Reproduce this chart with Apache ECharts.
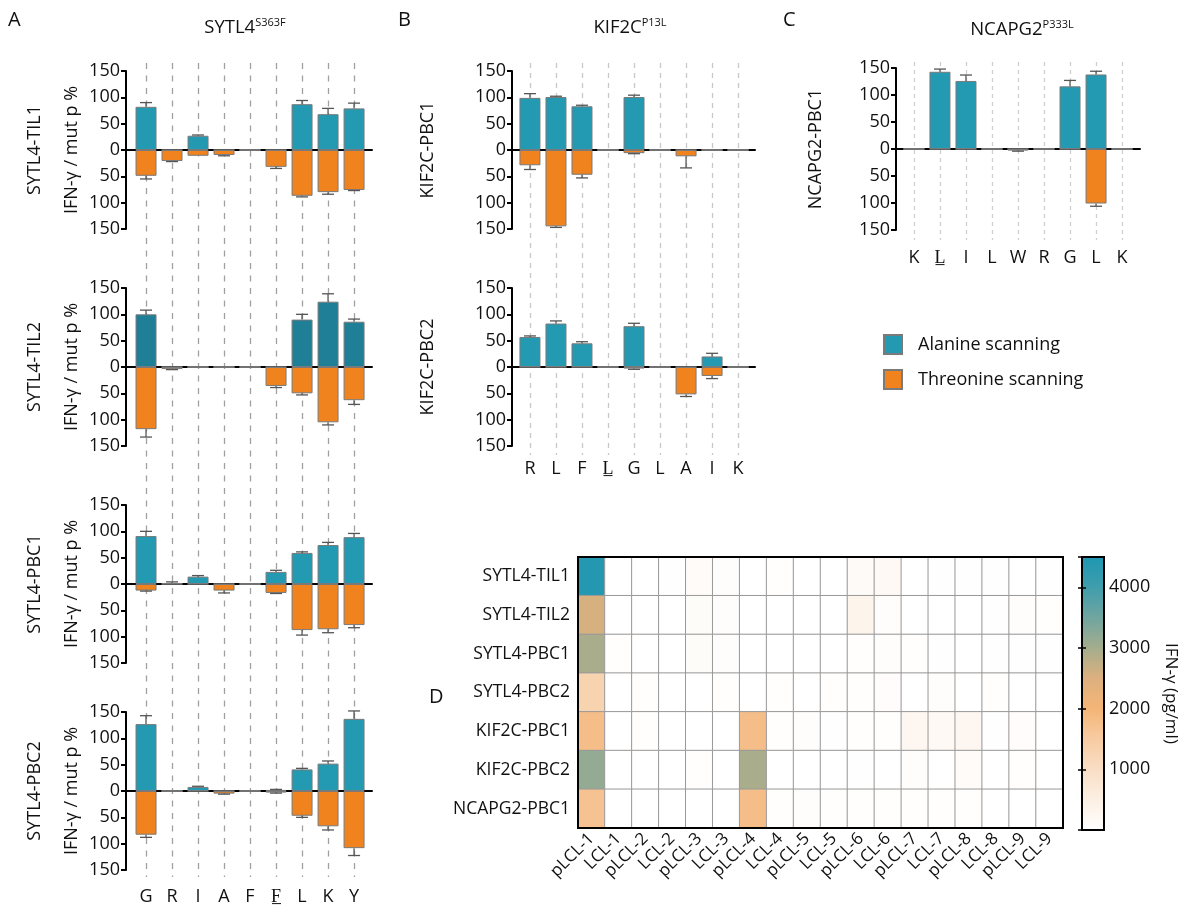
<!DOCTYPE html>
<html><head><meta charset="utf-8">
<script src="https://cdn.jsdelivr.net/npm/echarts@6/dist/echarts.min.js"></script>
<style>html,body{margin:0;padding:0;background:#fff}#c{width:1182px;height:909px}</style>
</head><body><div id="c"></div>
<script>
// ---------- Panel A: SYTL4 S363F ----------
const aLabels = ['G','R','I','A','F','F\u0332','L','K','Y'];
const aRows = ['SYTL4-TIL1','SYTL4-TIL2','SYTL4-PBC1','SYTL4-PBC2'];
const aAla = [
  [82,0,27,0,0,0,87,68,79],
  [100,0,0,0,0,0,90,124,86],
  [91,2,14,0,0,23,59,74,89],
  [127,0,7.7,0,0,2,41,52,137]
];
const aAlaErr = [
  [8,0,1.5,0,0,0,7,11,10],
  [8,0,0,0,0,0,10,15,5],
  [9,2,2,0,0,3,2,5,7],
  [16,0,1.3,0,0,1,2,5,15]
];
const aThr = [
  [49,21,11,9.5,0,32,87,80,76],
  [118,4,0,0,0,36,50,105,63],
  [12.5,0,0,12.5,0,17,87.5,86,78],
  [83,0,0,5,0,3,47,67,108.5]
];
const aThrErr = [
  [6,1,0,1.5,0,3,2,4,1],
  [15,1,0,0,0,3,3,5,8],
  [1,0,0,4.5,0,1,9.5,6.5,5],
  [5,0,0,1,0,1,3,7,14]
];
// ---------- Panel B: KIF2C P13L ----------
const bLabels = ['R','L','F','L\u0332','G','L','A','I','K'];
const bRows = ['KIF2C-PBC1','KIF2C-PBC2'];
const bAla = [
  [99,100.6,83,0,100.6,0,0,0,0],
  [57,82.5,45,0,77.5,0,0,20,0]
];
const bAlaErr = [
  [8,1.5,2,0,3.5,0,0,0,0],
  [2,5,3,0,5.5,0,0,6,0]
];
const bThr = [
  [29,145,47,0,6,0,12,0,0],
  [0,0,0,0,3,0,52,17,0]
];
const bThrErr = [
  [8,2,6,0,1,0,22,0,0],
  [0,0,0,0,1.4,0,4,5,0]
];
// ---------- Panel C: NCAPG2 P333L ----------
const cLabels = ['K','L\u0332','I','L','W','R','G','L','K'];
const cRows = ['NCAPG2-PBC1'];
const cAla = [[0,143,126,0,0,0,116,138,0]];
const cAlaErr = [[0,5,11,0,0,0,11,6,0]];
const cThr = [[0,0,0,0,3,0,0,101,0]];
const cThrErr = [[0,0,0,0,1,0,0,5,0]];
// ---------- Panel D: heatmap ----------
const dCols = ['pLCL-1','LCL-1','pLCL-2','LCL-2','pLCL-3','LCL-3','pLCL-4','LCL-4','pLCL-5','LCL-5','pLCL-6','LCL-6','pLCL-7','LCL-7','pLCL-8','LCL-8','pLCL-9','LCL-9'];
const dRows = ['SYTL4-TIL1','SYTL4-TIL2','SYTL4-PBC1','SYTL4-PBC2','KIF2C-PBC1','KIF2C-PBC2','NCAPG2-PBC1'];
const dVals = [
  [4400,0,0,20,120,60,0,40,0,0,150,180,0,20,20,20,0,20],
  [2550,0,0,0,100,60,0,0,0,0,350,60,0,0,0,20,60,40],
  [2950,40,0,0,100,60,0,0,0,0,40,50,30,20,0,20,20,25],
  [1300,0,30,0,0,40,0,30,0,30,40,80,0,50,0,30,0,0],
  [1800,0,30,0,0,0,1800,40,50,20,30,30,250,200,250,20,80,0],
  [3150,0,0,0,30,0,2950,0,0,0,20,0,50,0,120,0,40,0],
  [1700,0,0,0,0,0,1800,30,50,40,30,30,30,30,30,0,0,0]
];
const cbarTicks = [1000,2000,3000,4000];
const cbarMax = 4500;

const FONT = 'Open Sans';
const BLUE = '#2399B2', BLUE_DARK = '#1E7F97', ORANGE = '#F0831E';

const grids = [], xAxes = [], yAxes = [], series = [];

function errRender(params, api) {
  const x = api.value(0), v = api.value(1), e = api.value(2);
  if (!e || !v) return null;
  const p0 = api.coord([x, v]);
  const p1 = api.coord([x, v + Math.sign(v) * e]);
  const hw = 6, st = {stroke: '#555', lineWidth: 1.3};
  return {type: 'group', children: [
    {type: 'line', shape: {x1: p0[0], y1: p0[1], x2: p1[0], y2: p1[1]}, style: st},
    {type: 'line', shape: {x1: p1[0] - hw, y1: p1[1], x2: p1[0] + hw, y2: p1[1]}, style: st}
  ]};
}

function barPanel(g, xmin, xmax, name, nameGap, ala, alaErr, thr, thrErr, blue) {
  const gi = grids.length;
  grids.push(g);
  xAxes.push({gridIndex: gi, type: 'value', min: xmin, max: xmax,
    axisLine: {show: true, onZero: true, lineStyle: {color: '#000', width: 2}},
    axisTick: {show: false}, axisLabel: {show: false}, splitLine: {show: false}});
  yAxes.push({gridIndex: gi, type: 'value', min: -150, max: 150, interval: 50,
    name: name, nameLocation: 'middle', nameRotate: 90, nameGap: nameGap, nameMoveOverlap: false,
    nameTextStyle: {fontSize: 18, color: '#111', lineHeight: 37, fontFamily: FONT},
    axisLine: {show: true, onZero: false, lineStyle: {color: '#000', width: 2}},
    axisTick: {show: true, length: 5, lineStyle: {color: '#000', width: 2}},
    axisLabel: {fontSize: 18, color: '#111', margin: 6, fontFamily: FONT, formatter: v => String(Math.abs(v))},
    splitLine: {show: false}});
  const st = 's' + gi;
  series.push({type: 'bar', name: 'Alanine scanning', xAxisIndex: gi, yAxisIndex: gi, stack: st,
    barWidth: 21, data: ala.map((v, i) => [i, v]),
    itemStyle: {color: blue, borderColor: '#7a7a7a', borderWidth: 1}, z: 2});
  series.push({type: 'bar', name: 'Threonine scanning', xAxisIndex: gi, yAxisIndex: gi, stack: st,
    barWidth: 21, data: thr.map((v, i) => [i, -v]),
    itemStyle: {color: ORANGE, borderColor: '#7a7a7a', borderWidth: 1}, z: 2});
  const errData = [];
  ala.forEach((v, i) => { if (v && alaErr[i]) errData.push([i, v, alaErr[i]]); });
  thr.forEach((v, i) => { if (v && thrErr[i]) errData.push([i, -v, thrErr[i]]); });
  series.push({type: 'custom', xAxisIndex: gi, yAxisIndex: gi, renderItem: errRender,
    dimensions: ['x', 'y', 'e'], encode: {x: 0, y: 1}, data: errData, z: 3, silent: true});
}

function bgPanel(g, labels, margin, dashColor, dash) {
  const gi = grids.length;
  grids.push(g);
  xAxes.push({gridIndex: gi, type: 'category', boundaryGap: false, data: labels,
    axisLine: {show: false}, axisTick: {show: false},
    axisLabel: {fontSize: 18, color: '#111', margin: margin, fontFamily: FONT, interval: 0},
    splitLine: {show: true, lineStyle: {color: dashColor, width: 1.3, type: dash}}});
  yAxes.push({gridIndex: gi, type: 'value', min: 0, max: 1, show: false});
}

// Panel A
const aTops = [71, 288, 505, 712];
aRows.forEach((row, r) => {
  barPanel({left: 126, top: aTops[r], width: 246, height: 158}, -0.77, 8.69,
    row + '\nIFN-\u03b3 / mut p %', 36, aAla[r], aAlaErr[r], aThr[r], aThrErr[r], r === 1 ? BLUE_DARK : BLUE);
});
bgPanel({left: 146, top: 63, width: 208, height: 814}, aLabels, 11, '#a0a0a0', [6, 6.5]);
// Panel B
const bTops = [71, 288];
bRows.forEach((row, r) => {
  barPanel({left: 512, top: bTops[r], width: 243, height: 158}, -0.69, 8.65,
    row, 66, bAla[r], bAlaErr[r], bThr[r], bThrErr[r], BLUE);
});
bgPanel({left: 530, top: 63, width: 208, height: 392}, bLabels, 5, '#c8c8c8', [5, 5]);
// Panel C
cRows.forEach((row, r) => {
  barPanel({left: 896, top: 68, width: 244, height: 162}, -0.69, 8.69,
    row, 62, cAla[r], cAlaErr[r], cThr[r], cThrErr[r], BLUE);
});
bgPanel({left: 914, top: 62, width: 208, height: 178}, cLabels, 9, '#cfcfcf', [4, 4]);

// Panel D heatmap
const hgi = grids.length;
grids.push({left: 578, top: 557, width: 485, height: 271, show: true, borderColor: '#000', borderWidth: 2, backgroundColor: 'transparent', z: 5});
xAxes.push({gridIndex: hgi, type: 'category', data: dCols,
  axisLine: {show: false}, axisTick: {show: false},
  axisLabel: {rotate: 45, fontSize: 17, color: '#111', interval: 0, margin: 8, fontFamily: FONT},
  splitLine: {show: false}});
yAxes.push({gridIndex: hgi, type: 'category', data: dRows, inverse: true,
  axisLine: {show: false}, axisTick: {show: false},
  axisLabel: {fontSize: 17.5, color: '#111', margin: 8, fontFamily: FONT}, splitLine: {show: false}});
const heatData = [];
dVals.forEach((row, r) => row.forEach((v, c) => heatData.push([c, r, v])));
const heatIdx = series.length;
series.push({type: 'heatmap', xAxisIndex: hgi, yAxisIndex: hgi, data: heatData,
  itemStyle: {borderColor: '#999', borderWidth: 1}, emphasis: {disabled: true}});

// Colorbar axis
const cgi = grids.length;
grids.push({left: 1082, top: 557, width: 23, height: 273, show: true, borderColor: '#000', borderWidth: 2, backgroundColor: 'transparent', z: 10});
xAxes.push({gridIndex: cgi, type: 'value', show: false});
yAxes.push({gridIndex: cgi, type: 'value', position: 'right', min: 0, max: cbarMax, interval: 1000, z: 10,
  name: 'IFN-\u03b3 (pg/ml)', nameLocation: 'middle', nameRotate: -90, nameGap: 57,
  nameTextStyle: {fontSize: 17, color: '#111', lineHeight: 20, fontFamily: FONT},
  axisLine: {show: false}, axisTick: {show: true, inside: true, length: 4, lineStyle: {color: '#000', width: 1.5}},
  axisLabel: {fontSize: 18, color: '#111', margin: 5, fontFamily: FONT,
    formatter: v => cbarTicks.indexOf(v) >= 0 ? String(v) : ''},
  splitLine: {show: false}});
yAxes.push({gridIndex: cgi, type: 'value', position: 'left', min: 0, max: cbarMax, interval: 1000, z: 10,
  axisLine: {show: false}, axisTick: {show: true, inside: true, length: 4, lineStyle: {color: '#000', width: 1.5}},
  axisLabel: {show: false}, splitLine: {show: false}});

const sup = (main, s, x, y) => ({type: 'text', x: x, y: y, style: {
  text: '{m|' + main + '}{s|' + s + '}', align: 'center', verticalAlign: 'middle',
  rich: {m: {fontSize: 18.5, lineHeight: 22, fontFamily: FONT, fill: '#111'},
         s: {fontSize: 11, lineHeight: 12, verticalAlign: 'top', fontFamily: FONT, fill: '#111'}}}});
const letter = (t, x, y) => ({type: 'text', x: x, y: y, style: {text: t, fontSize: 20, fontFamily: FONT, fill: '#111', verticalAlign: 'middle'}});

const chart = echarts.init(document.getElementById('c'), null, {renderer: 'canvas'});
chart.setOption({
  backgroundColor: '#fff',
  animation: false,
  textStyle: {fontFamily: FONT},
  grid: grids,
  xAxis: xAxes,
  yAxis: yAxes,
  series: series,
  legend: {data: ['Alanine scanning', 'Threonine scanning'], orient: 'vertical', left: 883, top: 334,
    padding: 0, itemWidth: 18, itemHeight: 19, itemGap: 14, icon: 'rect',
    textStyle: {fontSize: 18, color: '#111', padding: [0, 0, 0, 11], fontFamily: FONT}},
  visualMap: {type: 'continuous', min: 0, max: cbarMax, seriesIndex: heatIdx, calculable: false,
    left: 1082, top: 557, itemWidth: 23, itemHeight: 273, padding: 0, z: 4,
    inRange: {color: ['#FFFFFF', '#FCEFE3', '#F9DEC5', '#F7CBA2', '#F4B577', '#DDB07F', '#A4AD8D', '#70A5A0', '#3F9EAC', '#1E97B2']}},
  graphic: [
    letter('A', 8, 20), letter('B', 398, 20), letter('C', 783, 20), letter('D', 429, 697),
    sup('SYTL4', 'S363F', 245, 28), sup('KIF2C', 'P13L', 630, 28), sup('NCAPG2', 'P333L', 1022, 30)
  ]
});
</script></body></html>
